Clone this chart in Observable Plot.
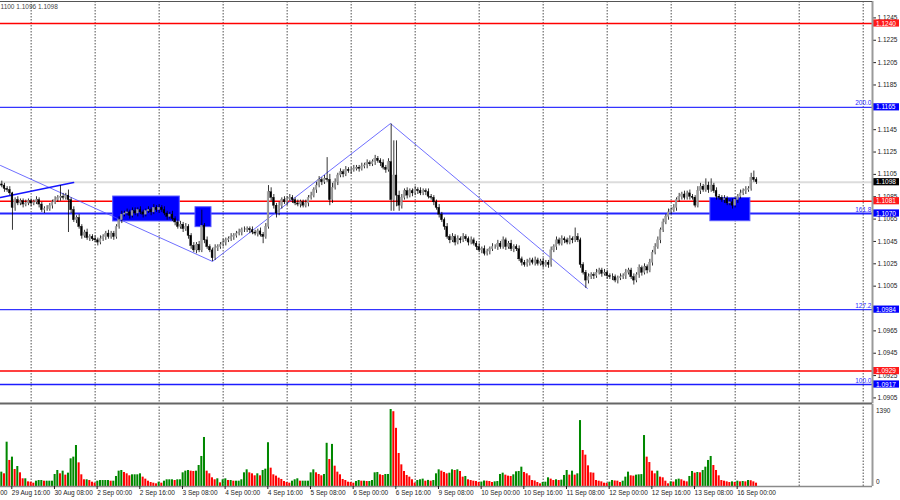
<!DOCTYPE html>
<html><head><meta charset="utf-8">
<script src="https://cdn.jsdelivr.net/npm/d3@7"></script>
<script src="https://cdn.jsdelivr.net/npm/@observablehq/plot@0.6"></script>
<style>
body{margin:0;background:#fff;}
#wrap{position:relative;width:900px;height:500px;overflow:hidden;background:#fff;}
#wrap svg{position:absolute;left:0;}
</style></head><body><div id="wrap"></div>
<script>
// ---- data (prices in pips above 1.1000) ----
const base = 1.1000;
const startOpen = 96;
const closes = [
95,92,91,88,75,82,79,81,78,79,81,79,
80,82,78,73,74,74,77,80,82,84,85,84,
86,82,73,64,66,58,50,53,48,49,47,46,
44,47,49,52,49,52,49,58,64,69,70,71,
68,72,70,73,71,69,72,73,71,75,73,75,
73,70,67,69,65,62,58,60,56,58,50,41,
37,42,37,59,46,40,37,30,39,40,42,44,
46,47,49,50,52,53,55,55,56,55,53,52,
54,51,49,58,89,84,77,70,77,82,80,83,
84,82,79,78,80,77,79,84,86,91,95,100,
98,101,100,82,93,98,104,107,105,109,108,109,
110,111,110,112,113,115,114,116,119,117,115,111,
109,116,82,104,86,77,84,90,86,90,88,91,
90,88,90,89,85,84,80,75,69,64,58,49,
46,49,44,47,46,49,47,44,46,43,40,37,
38,34,36,38,40,40,43,40,46,40,43,38,
40,38,29,26,24,26,28,26,28,25,27,24,
26,24,37,40,46,43,47,46,44,47,46,49,
46,24,17,10,13,15,14,17,19,16,17,14,
13,13,10,12,13,14,17,19,13,10,15,21,
17,22,19,26,35,40,46,55,62,67,71,73,
75,82,85,87,84,88,85,84,77,90,94,91,
95,91,95,90,85,84,82,83,79,80,77,82,
85,88,90,91,92,102,100,98];
const hiWick = [
3,2,2,3,1,2,3,2,2,3,2,2,
2,3,2,2,2,3,2,2,3,2,10,3,
2,5,2,3,2,3,2,2,3,2,2,3,
2,3,2,2,3,2,2,2,3,3,2,3,
2,3,3,2,3,2,2,3,2,3,2,3,
2,3,2,2,3,2,2,3,2,3,2,2,
3,2,3,14,2,3,2,2,3,2,2,3,
2,2,3,2,2,3,2,3,2,2,3,2,
2,3,2,3,6,4,3,2,3,2,3,2,
3,2,2,3,2,2,3,2,3,2,3,3,
2,3,19,5,4,3,2,3,2,3,2,2,
3,2,2,3,2,3,2,2,3,2,2,3,
2,3,34,31,31,4,3,2,3,2,2,3,
2,3,2,2,3,2,2,2,3,2,2,3,
2,3,2,3,2,3,2,2,3,2,2,3,
2,3,2,2,3,2,3,2,3,2,2,3,
2,2,3,2,2,3,2,2,3,2,2,3,
2,2,3,2,3,2,3,2,2,3,2,8,
3,2,2,2,3,2,2,3,2,2,3,2,
2,3,2,2,3,2,3,2,2,3,2,3,
2,3,2,3,2,3,3,2,3,2,3,2,
3,2,3,2,3,2,3,2,2,4,3,2,
6,3,6,2,3,2,2,3,2,2,3,2,
2,3,2,3,2,4,6,2];
const loWick = [
2,3,2,2,20,3,2,2,3,2,2,3,
2,2,3,2,3,2,2,3,2,2,3,2,
2,29,3,2,3,2,3,2,2,3,2,2,
3,2,2,3,2,2,3,2,2,3,2,2,
3,2,2,3,2,3,2,2,3,2,2,3,
2,2,3,2,2,3,2,2,3,2,3,3,
2,3,2,2,3,2,2,3,2,3,2,2,
3,2,2,3,2,2,3,2,2,3,2,2,
3,2,6,2,2,3,3,4,2,3,2,3,
2,3,2,2,3,2,2,3,2,2,3,2,
3,2,2,5,3,2,3,2,3,2,2,3,
2,2,3,2,2,3,2,2,3,2,3,2,
3,2,10,10,10,5,3,2,3,2,3,2,
3,2,2,3,2,2,3,2,3,2,3,2,
3,2,3,2,3,2,2,3,2,2,3,2,
3,2,2,3,2,2,3,2,2,3,2,2,
3,2,2,3,2,2,3,2,3,2,2,3,
2,3,2,2,3,2,2,3,2,2,3,2,
2,3,2,7,3,2,3,2,2,3,2,3,
2,3,2,3,2,2,3,2,2,4,2,3,
3,2,3,2,3,2,2,3,2,2,3,2,
2,3,2,3,2,2,3,2,2,2,3,2,
2,3,2,2,3,2,2,3,2,2,3,2,
3,2,2,3,2,2,2,2];
const volumes = [
259,229,800,470,530,307,361,247,139,139,84,78,
60,96,108,108,96,96,96,96,217,289,229,277,
205,241,500,530,740,427,211,121,121,108,78,60,
96,108,108,108,108,96,96,181,277,289,253,229,
193,211,211,211,229,169,133,96,72,60,48,78,
60,96,121,121,121,108,121,121,247,277,289,277,
271,277,379,542,885,277,229,157,121,139,66,121,
139,108,108,96,96,96,121,247,301,247,229,193,
229,193,289,313,790,331,211,187,151,127,90,72,
60,96,121,139,96,96,96,96,247,301,247,217,
193,217,780,487,760,367,259,211,127,108,78,72,
60,90,108,96,96,90,90,108,247,253,211,199,
217,217,1390,1350,1050,596,391,271,199,169,121,60,
108,121,133,96,110,96,108,229,301,277,253,229,
240,301,289,301,271,169,181,121,108,96,90,72,
80,100,96,90,72,84,90,217,241,205,187,181,
211,265,271,349,253,229,193,108,100,72,48,72,
78,157,133,108,121,108,115,199,289,205,277,205,
229,1190,650,566,373,247,241,108,96,84,60,56,
78,108,100,96,72,96,169,259,193,187,205,211,
215,920,530,433,277,229,277,169,157,96,48,84,
80,121,133,121,96,84,181,271,241,253,247,289,
349,470,542,379,289,193,108,96,84,72,84,72,
96,84,90,84,108,104,84,60];
const volMax = 1390;

const priceTicks = [1.1245,1.1225,1.1205,1.1185,1.1165,1.1145,1.1125,1.1105,1.1085,1.1065,1.1045,1.1025,1.1005,1.0985,1.0965,1.0945,1.0925,1.0905];
const dayStartBars = [11,35,59,83,107,131,155,179,203,227,251,275,299,323];
const timeLabelBars = [-13,3,19,35,51,67,83,99,115,131,147,163,179,195,211,227,243,259,275];
const timeLabels = ["29 Aug 00:00","29 Aug 16:00","30 Aug 08:00","2 Sep 00:00","2 Sep 16:00","3 Sep 08:00","4 Sep 00:00","4 Sep 16:00","5 Sep 08:00","6 Sep 00:00","6 Sep 16:00","9 Sep 08:00","10 Sep 00:00","10 Sep 16:00","11 Sep 08:00","12 Sep 00:00","12 Sep 16:00","13 Sep 08:00","16 Sep 00:00"];

const redLevels = [1.1240,1.1081,1.0929];
const fibPrices = [1.1165,1.1070,1.0984,1.0917];
const fibLabels = ["200.0","161.8","127.2","100.0"];
const currentPrice = 1.1098;
const tagPrices = [1.1240,1.1165,1.1098,1.1081,1.1070,1.0984,1.0929,1.0917];
const tagKinds = ["red","blue","price","red","blue","blue","red","blue"];

const zigBars = [-0.49,79.0,145.75,219.6];
const zigPrices = [1.11130,1.10271,1.11505,1.10029];
const trendBars = [-0.49,26.9];
const trendPrices = [1.10843,1.10977];

const boxBarFrom = [41.77,72.63,265.7];
const boxBarTo = [66.74,78.63,280.7];
const boxTop = [1.10852,1.10756,1.10839];
const boxBottom = [1.10629,1.10578,1.10631];

const headerText = "1100 1.1096 1.1098";

// ---- build ----
const xDomain = [-0.4875, 326.49];
const yDomain = [1.090002, 1.125968];
const pxPerBar = 872 / (xDomain[1]-xDomain[0]);
const pxPerPrice = 402 / (yDomain[1]-yDomain[0]);
const font = "'Liberation Sans', Arial, sans-serif";

const candles = closes.map((c,i)=>{
  const o = i===0 ? startOpen : closes[i-1];
  return {i, open: base+o/1e4, close: base+c/1e4,
    high: base+(Math.max(o,c)+hiWick[i])/1e4,
    low: base+(Math.min(o,c)-loWick[i])/1e4, up: c>=o};
});
const vols = volumes.map((v,i)=>({i, v, up: i===0 || v>=volumes[i-1]}));
const zig = zigBars.map((b,k)=>({b, p: zigPrices[k]}));
const trend = trendBars.map((b,k)=>({b, p: trendPrices[k]}));
const boxes = boxBarFrom.map((b,k)=>({b1:b, b2:boxBarTo[k], p1:boxBottom[k], p2:boxTop[k]}));
const tagColor = {red:"#ff1a1a", blue:"#0000ff", price:"#000000"};
const tags = tagPrices.map((p,k)=>({p, kind: tagKinds[k], text: p.toFixed(4)}));
const fibs = fibPrices.map((p,k)=>({p, label: fibLabels[k]}));
const tagH = 3.6/pxPerPrice;
const xAxisRight = xDomain[1];
const xTagL = xDomain[1] + 1/pxPerBar, xTagR = xDomain[1] + 27/pxPerBar, xTagText = xDomain[1] + 3.5/pxPerBar;

const main = Plot.plot({
  width:900, height:404, marginTop:1, marginBottom:1, marginLeft:0, marginRight:28,
  x:{domain:xDomain, axis:null},
  y:{domain:yDomain, axis:null},
  style:{fontFamily:font, background:"transparent", overflow:"visible"},
  marks:[
    Plot.ruleX(dayStartBars,{stroke:"#222", strokeDasharray:"1.5,1.5", strokeWidth:0.8}),
    Plot.ruleY([currentPrice],{stroke:"#dcdcdc", strokeWidth:2}),
    Plot.ruleY(redLevels,{stroke:"#ff0000", strokeWidth:1.5}),
    Plot.ruleY(fibs.filter(d=>d.label!=="161.8" && d.label!=="100.0"),{y:"p", stroke:"#3434ff", strokeWidth:1.2}),
    Plot.ruleY(fibs.filter(d=>d.label==="100.0"),{y:"p", stroke:"#1c1cff", strokeWidth:1.6}),
    Plot.ruleY(fibs.filter(d=>d.label==="161.8"),{y:"p", stroke:"#2424ff", strokeWidth:2.2}),
    Plot.rect(boxes,{x1:"b1", x2:"b2", y1:"p1", y2:"p2", fill:"#0000ff", stroke:"#5a5aff", strokeWidth:1}),
    Plot.line(zig,{x:"b", y:"p", stroke:"#4a4aff", strokeWidth:0.8}),
    Plot.line(trend,{x:"b", y:"p", stroke:"#1515ff", strokeWidth:1.6}),
    Plot.ruleX(candles,{x:"i", y1:"low", y2:"high", stroke:"#000", strokeWidth:0.8}),
    Plot.rect(candles,{x1:d=>d.i-0.33, x2:d=>d.i+0.33, y1:"open", y2:"close",
      fill:d=>d.up?"#9d9d9d":"#000000", stroke:d=>d.up?"#9d9d9d":"#000000", strokeWidth:0.4}),
    Plot.text(fibs,{x:xDomain[1], y:"p", text:"label", textAnchor:"end", dx:-1, dy:-4, fill:"#2b2bff", fontSize:6.5}),
    Plot.axisY({anchor:"right", ticks:priceTicks, tickFormat:d=>d.toFixed(4), tickSize:3, tickPadding:2, fontSize:6.5, color:"#222"}),
    Plot.rect(tags,{x1:xTagL, x2:xTagR, y1:d=>d.p-tagH, y2:d=>d.p+tagH, fill:d=>tagColor[d.kind]}),
    Plot.text(tags,{x:xTagText, y:"p", text:"text", textAnchor:"start", fill:"#fff", fontSize:6.5}),
    Plot.ruleX([xAxisRight],{stroke:"#9a9a9a", strokeWidth:2}),
    Plot.ruleY([yDomain[1]],{stroke:"#555", strokeWidth:1}),
    Plot.ruleY([yDomain[0]],{stroke:"#666", strokeWidth:2}),
    Plot.text([headerText],{frameAnchor:"top-left", dx:0, dy:3, fill:"#444", fontSize:6.5, textAnchor:"start"})
  ]
});

const volPlot = Plot.plot({
  width:900, height:96, marginTop:5, marginBottom:14, marginLeft:0, marginRight:28,
  x:{domain:xDomain, axis:null},
  y:{domain:[0, volMax], axis:null},
  style:{fontFamily:font, background:"transparent", overflow:"visible"},
  marks:[
    Plot.ruleX(dayStartBars,{y1:0, y2:volMax*1.05, stroke:"#222", strokeDasharray:"1.5,1.5", strokeWidth:0.8}),
    Plot.rect(vols,{x1:d=>d.i-0.38, x2:d=>d.i+0.38, y1:0, y2:"v", fill:d=>d.up?"#008800":"#ff0000"}),
    Plot.ruleY([0],{stroke:"#8a8a8a", strokeWidth:1.5}),
    Plot.ruleX([xAxisRight],{y1:0, y2:volMax*1.07, stroke:"#9a9a9a", strokeWidth:2}),
    Plot.axisX({ticks:timeLabelBars, tickFormat:d=>timeLabels[timeLabelBars.indexOf(d)], tickSize:3, tickPadding:1, textAnchor:"start", dx:2, fontSize:6.5, color:"#222"}),
    Plot.text([String(volMax)],{x:xTagText, y:volMax, textAnchor:"start", dy:1, fill:"#222", fontSize:6.5}),
    Plot.text(["0"],{x:xTagText, y:0, textAnchor:"start", dy:-5, fill:"#222", fontSize:6.5})
  ]
});

const wrap = document.getElementById("wrap");
main.style.top = "0px";
volPlot.style.top = "404px";
wrap.appendChild(main);
wrap.appendChild(volPlot);
</script>
</body></html>
